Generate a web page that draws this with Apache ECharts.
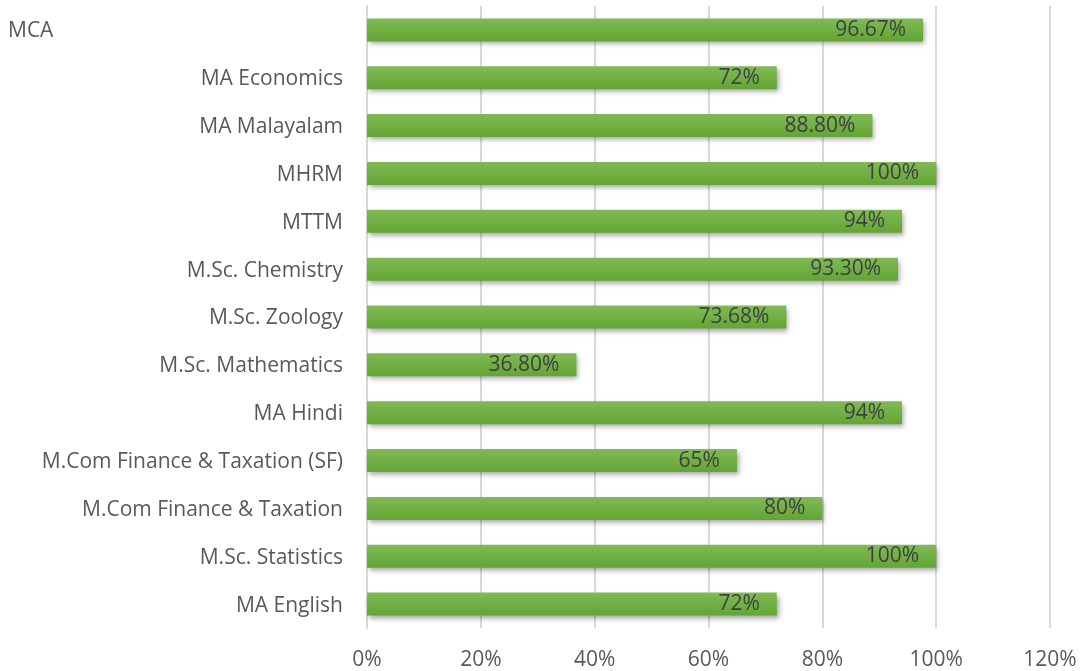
<!DOCTYPE html>
<html>
<head>
<meta charset="utf-8">
<script src="https://cdn.jsdelivr.net/npm/echarts@6/dist/echarts.min.js"></script>
<style>
  html, body { margin: 0; padding: 0; background: #fff; }
  #main { width: 1081px; height: 671px; }
</style>
</head>
<body>
<div id="main"></div>
<script>
// categories from bottom to top (category axis runs upward)
var courses = ['MA English', 'M.Sc. Statistics', 'M.Com Finance & Taxation', 'M.Com Finance & Taxation (SF)',
    'MA Hindi', 'M.Sc. Mathematics', 'M.Sc. Zoology', 'M.Sc. Chemistry', 'MTTM', 'MHRM',
    'MA Malayalam', 'MA Economics', 'MCA'];
// bar lengths as drawn (percent)
var passRate = [72, 100, 80, 65, 94, 36.8, 73.68, 93.3, 94, 100, 88.8, 72, 97.7];
// printed labels
var rateLabels = ['72%', '100%', '80%', '65%', '94%', '36.80%', '73.68%', '93.30%', '94%', '100%',
    '88.80%', '72%', '96.67%'];
var xTicks = [0, 20, 40, 60, 80, 100, 120];

var myChart = echarts.init(document.getElementById('main'));

var option = {
    animation: false,
    textStyle: { fontFamily: 'Open Sans' },
    grid: {
        left: 367,
        right: 31,
        top: 6,
        bottom: 42
    },
    xAxis: {
        type: 'value',
        min: xTicks[0],
        max: xTicks[xTicks.length - 1],
        interval: 20,
        axisLine: { show: false },
        axisTick: { show: false },
        splitLine: { lineStyle: { color: '#d9d9d9', width: 2 } },
        axisLabel: {
            color: '#595959',
            fontSize: 21,
            margin: 22,
            formatter: '{value}%'
        }
    },
    yAxis: {
        type: 'category',
        data: courses,
        axisLine: { lineStyle: { color: '#d9d9d9', width: 2 } },
        axisTick: { show: false },
        axisLabel: {
            color: '#595959',
            fontSize: 21,
            margin: 24,
            padding: [3, 0, 0, 0],
            formatter: function (v) {
                return v === 'MCA' ? '{mca|' + v + '}' : v;
            },
            rich: {
                mca: { width: 335, align: 'left', fontSize: 21, color: '#595959' }
            }
        }
    },
    series: [
        {
            type: 'bar',
            data: passRate,
            barWidth: 23,
            itemStyle: {
                color: new echarts.graphic.LinearGradient(0, 0, 0, 1, [
                    { offset: 0, color: '#7fbb55' },
                    { offset: 1, color: '#63a534' }
                ]),
                shadowColor: 'rgba(0,0,0,0.35)',
                shadowBlur: 5,
                shadowOffsetX: 2,
                shadowOffsetY: 3
            },
            label: {
                show: true,
                position: 'insideRight',
                distance: 17,
                padding: [3, 0, 0, 0],
                color: '#404040',
                fontSize: 21,
                formatter: function (p) {
                    return rateLabels[p.dataIndex];
                }
            }
        }
    ]
};
myChart.setOption(option);
</script>
</body>
</html>
